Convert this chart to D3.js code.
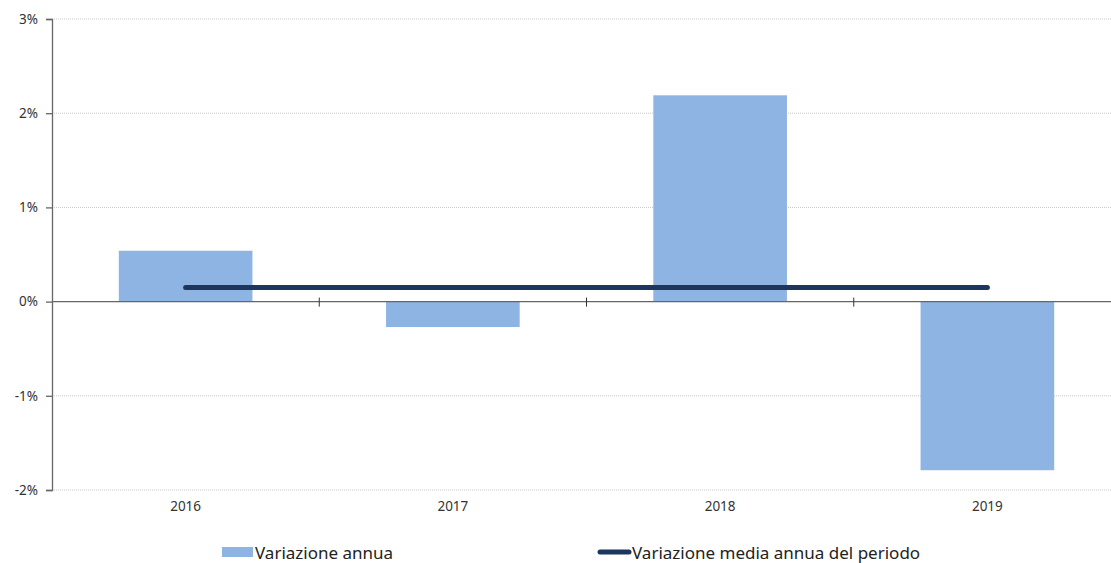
<!DOCTYPE html>
<html>
<head>
<meta charset="utf-8">
<script src="https://cdn.jsdelivr.net/npm/d3@7"></script>
<style>
  html, body { margin: 0; padding: 0; background: #fff; }
  svg { display: block; font-family: "Noto Sans", "Open Sans", sans-serif; }
</style>
</head>
<body>
<svg id="chart" width="1111" height="563"></svg>
<script>
// Annual change by year and the average annual change over the period
const years = ["2016", "2017", "2018", "2019"];
const annualChange = [0.54, -0.27, 2.19, -1.79];
const averageChange = 0.15;
const yTicks = [-2, -1, 0, 1, 2, 3];
const legendLabels = ["Variazione annua", "Variazione media annua del periodo"];

const barColor = "#8eb4e3";
const lineColor = "#1b375e";

const svg = d3.select("#chart");
const plotLeft = 52, plotRight = 1121, plotTop = 19, plotBottom = 490;

const x = d3.scaleBand().domain(years).range([plotLeft, plotRight]).paddingInner(0).paddingOuter(0);
const y = d3.scaleLinear().domain([-2, 3]).range([plotBottom, plotTop]);

// dotted horizontal gridlines
svg.append("g")
  .selectAll("line")
  .data(yTicks.filter(d => d !== 0))
  .join("line")
  .attr("x1", plotLeft).attr("x2", plotRight)
  .attr("y1", d => y(d)).attr("y2", d => y(d))
  .attr("stroke", "#c8c8c8")
  .attr("stroke-width", 1)
  .attr("stroke-dasharray", "1,1");

// bars
const bw = x.bandwidth() * 0.5;
svg.append("g")
  .selectAll("rect")
  .data(years.map((yr, i) => ({ yr, v: annualChange[i] })))
  .join("rect")
  .attr("x", d => x(d.yr) + (x.bandwidth() - bw) / 2)
  .attr("width", bw)
  .attr("y", d => y(Math.max(0, d.v)))
  .attr("height", d => Math.abs(y(d.v) - y(0)))
  .attr("fill", barColor);

// y axis
const yAxis = d3.axisLeft(y)
  .tickValues(yTicks)
  .tickFormat(d => d + "%")
  .tickSize(6)
  .tickPadding(8);
const yg = svg.append("g").attr("transform", `translate(${plotLeft},0)`).call(yAxis);
yg.select(".domain").attr("stroke", "#666").attr("stroke-width", 1.3);
yg.selectAll(".tick line").attr("stroke", "#666").attr("stroke-width", 1.3);
yg.selectAll(".tick text").attr("fill", "#333").attr("font-size", 13.5)
  .attr("font-family", "'Noto Sans', sans-serif");

// zero line with category separators
svg.append("line")
  .attr("x1", plotLeft).attr("x2", plotRight)
  .attr("y1", y(0)).attr("y2", y(0))
  .attr("stroke", "#666").attr("stroke-width", 1.3);
svg.append("g")
  .selectAll("line")
  .data(years.slice(1))
  .join("line")
  .attr("x1", d => x(d)).attr("x2", d => x(d))
  .attr("y1", y(0) - 4).attr("y2", y(0) + 5)
  .attr("stroke", "#333").attr("stroke-width", 1);

// category labels
svg.append("g")
  .selectAll("text")
  .data(years)
  .join("text")
  .attr("x", d => x(d) + x.bandwidth() / 2)
  .attr("y", 511)
  .attr("text-anchor", "middle")
  .attr("font-size", 13.5)
  .attr("fill", "#333")
  .text(d => d);

// average line
const line = d3.line().x(d => x(d) + x.bandwidth() / 2).y(() => y(averageChange));
svg.append("path")
  .datum([years[0], years[years.length - 1]])
  .attr("d", line)
  .attr("stroke", lineColor)
  .attr("stroke-width", 5)
  .attr("stroke-linecap", "round")
  .attr("fill", "none");

// legend
const lg = svg.append("g");
lg.append("rect").attr("x", 222).attr("y", 547).attr("width", 31).attr("height", 10).attr("fill", barColor);
lg.append("text").attr("x", 255).attr("y", 559).attr("font-size", 17).attr("fill", "#222").text(legendLabels[0]);
lg.append("line").attr("x1", 600).attr("x2", 629).attr("y1", 552).attr("y2", 552)
  .attr("stroke", lineColor).attr("stroke-width", 5).attr("stroke-linecap", "round");
lg.append("text").attr("x", 632).attr("y", 559).attr("font-size", 17).attr("fill", "#222").text(legendLabels[1]);
</script>
</body>
</html>
